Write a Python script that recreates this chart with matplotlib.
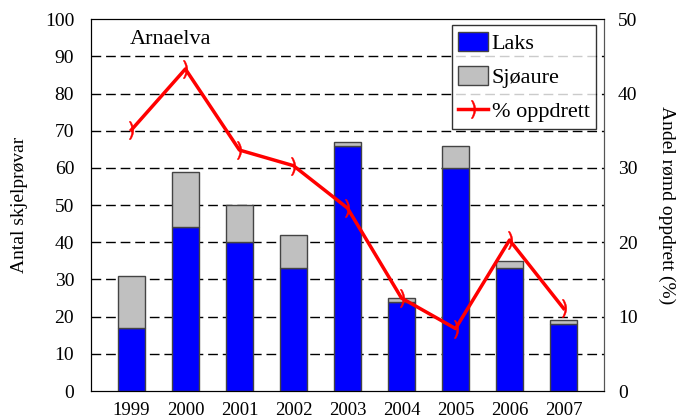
import matplotlib
matplotlib.use("Agg")
import matplotlib.pyplot as plt
import numpy as np

years = ["1999", "2000", "2001", "2002", "2003", "2004", "2005", "2006", "2007"]
laks = [17, 44, 40, 33, 66, 24, 60, 33, 18]
sjoaure = [14, 15, 10, 9, 1, 1, 6, 2, 1]
pct_oppdrett = [35.1, 43.3, 32.4, 30.3, 24.6, 12.5, 8.4, 20.3, 11.1]

plt.rcParams['font.family'] = ['Liberation Serif', 'DejaVu Serif']

fig = plt.figure(figsize=(6.78, 4.16), dpi=100)
ax = fig.add_axes([0.134, 0.06, 0.757, 0.894])
x = np.arange(len(years))

# bars
b1 = ax.bar(x, laks, width=0.5, color="#0000ff", edgecolor="#444444", linewidth=1, label="Laks", zorder=3)
b2 = ax.bar(x, sjoaure, width=0.5, bottom=laks, color="#c0c0c0", edgecolor="#444444",
            linewidth=1, label="Sjøaure", zorder=3)

ax.set_ylim(0, 100)
ax.set_xlim(-0.75, 8.75)
ax.set_yticks(range(0, 101, 10))
for yv in range(10, 100, 10):
    ax.axhline(yv, color="black", linestyle=(0, (7, 3.5)), linewidth=1, zorder=1)
ax.set_xticks(x)
ax.set_xticklabels(years, fontsize=13.5)
ax.tick_params(axis="x", length=0, pad=8)
ax.tick_params(axis="y", labelsize=14, length=0, pad=12)
ax.set_ylabel("Antal skjelprøvar", fontsize=14, labelpad=12)
for s in ["top", "left", "bottom"]:
    ax.spines[s].set_color("black")
ax.spines["right"].set_color("#555555")

ax2 = ax.twinx()
ax2.set_ylim(0, 50)
ax2.set_yticks(range(0, 51, 10))
line, = ax2.plot(x, pct_oppdrett, color="#ff0000", linewidth=2.5, marker=r"$)$",
                 markersize=13, markeredgewidth=0.3, label="% oppdrett", zorder=4)
ax2.tick_params(axis="y", labelsize=14, length=0, pad=10)
ax2.set_ylabel("Andel rømd oppdrett (%)", fontsize=14, rotation=270, labelpad=27)
ax2.spines["right"].set_color("#555555")

ax.text(0.076, 0.946, "Arnaelva", transform=ax.transAxes, fontsize=16, va="center")

leg = ax2.legend([b1, b2, line], ["Laks", "Sjøaure", "% oppdrett"], loc="upper right",
                 bbox_to_anchor=(0.985, 0.983), fontsize=16, frameon=True, fancybox=False,
                 edgecolor="black", handlelength=1.35, handleheight=0.9, handletextpad=0.15,
                 borderpad=0.3, labelspacing=0.55, borderaxespad=0)
leg.get_frame().set_linewidth(1)

fig.savefig("out.png", dpi=100)
